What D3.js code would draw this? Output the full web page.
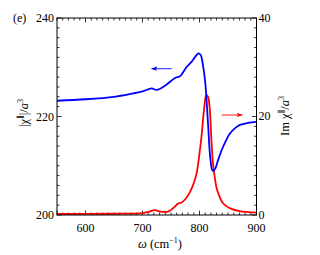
<!DOCTYPE html>
<html lang="en">
<head>
<meta charset="UTF-8">
<title>chi parallel</title>
<script src="https://d3js.org/d3.v7.min.js"></script>
<style>
  body { margin: 0; background: #fff; }
  svg { display: block; }
  text { font-family: "Liberation Serif", "DejaVu Serif", serif; fill: #000; }
</style>
</head>
<body>
<svg id="chart" width="320" height="255"></svg>
<script>
// frequency (cm^-1) and |chi|/a^3 (left axis)
const omegaAbs = [550, 600, 650, 680, 700, 716, 725, 740, 757, 766, 777, 786, 793, 798, 802, 806, 810, 815, 819, 823, 827, 833, 839, 846, 853, 862, 871, 885, 900];
const chiAbs   = [223.2, 223.5, 224.0, 224.6, 225.1, 225.7, 225.4, 226.3, 227.8, 228.2, 230.0, 231.1, 232.2, 232.8, 232.5, 230.5, 227.0, 218.5, 211.5, 209.0, 209.3, 211.3, 213.2, 215.0, 216.5, 217.6, 218.3, 218.7, 218.9];

// frequency and Im chi/a^3 (right axis)
const omegaIm = [550, 650, 700, 712, 722, 731, 745, 755, 762, 768, 775, 783, 790, 795, 800, 804, 808, 812, 815, 818, 821, 824, 827, 830, 835, 840, 847, 855, 870, 885, 900];
const chiIm   = [0.2, 0.25, 0.4, 0.7, 1.0, 0.7, 0.7, 1.5, 2.3, 2.5, 3.2, 4.6, 6.5, 8.5, 12.5, 16.5, 21.5, 24.4, 24.0, 21.5, 15.0, 10.0, 7.5, 5.5, 3.8, 2.6, 1.8, 1.3, 0.8, 0.6, 0.5];

const xTicks = [600, 700, 800, 900];
const leftTicks = [200, 220, 240];
const rightTicks = [0, 20, 40];

const svg = d3.select("#chart");
const margin = {top: 18, left: 57, right: 63.5, bottom: 40};
const W = 320 - margin.left - margin.right;
const H = 255 - margin.top - margin.bottom;

const x = d3.scaleLinear().domain([550, 900]).range([margin.left, margin.left + W]);
const yL = d3.scaleLinear().domain([200, 240]).range([margin.top + H, margin.top]);
const yR = d3.scaleLinear().domain([0, 40]).range([margin.top + H, margin.top]);

const g = svg.append("g");

// ticks (inside) - minor + major
function ticks(axisFn, scale, major, minorStep, pos, dir) {
  const d = scale.domain();
  const minors = d3.range(d[0], d[1] + 1e-6, minorStep);
  g.append("g").selectAll("line").data(minors).join("line")
    .each(function(v) {
      const isMajor = major.includes(Math.round(v));
      const len = isMajor ? 4.5 : 2.5;
      const s = scale(v);
      const el = d3.select(this);
      if (axisFn === "x") el.attr("x1", s).attr("x2", s).attr("y1", pos).attr("y2", pos + dir * len);
      else el.attr("y1", s).attr("y2", s).attr("x1", pos).attr("x2", pos + dir * len);
    })
    .attr("stroke", "#000").attr("stroke-width", 0.8);
}
ticks("x", x, xTicks.concat([550]), 10, margin.top + H, -1);
ticks("x", x, xTicks, 10, margin.top, 1);
ticks("y", yL, leftTicks, 2, margin.left, 1);
ticks("y", yR, rightTicks, 2, margin.left + W, -1);

// lines
const lineAbs = d3.line().x((d, i) => x(omegaAbs[i])).y(d => yL(d)).curve(d3.curveCatmullRom);
const lineIm = d3.line().x((d, i) => x(omegaIm[i])).y(d => yR(d)).curve(d3.curveCatmullRom);

const clip = svg.append("defs").append("clipPath").attr("id", "clip")
  .append("rect").attr("x", margin.left).attr("y", margin.top).attr("width", W).attr("height", H);

g.append("path").datum(chiIm).attr("d", lineIm)
  .attr("fill", "none").attr("stroke", "#ff0000").attr("stroke-width", 1.8).attr("clip-path", "url(#clip)");
g.append("path").datum(chiAbs).attr("d", lineAbs)
  .attr("fill", "none").attr("stroke", "#0000ff").attr("stroke-width", 1.8).attr("clip-path", "url(#clip)");

// frame
g.append("rect").attr("x", margin.left).attr("y", margin.top).attr("width", W).attr("height", H)
  .attr("fill", "none").attr("stroke", "#000").attr("stroke-width", 1);

// arrows
const defs = svg.select("defs");
[["arrB", "#0000ff"], ["arrR", "#ff0000"]].forEach(([id, c]) => {
  defs.append("marker").attr("id", id).attr("viewBox", "0 0 10 10").attr("refX", 9).attr("refY", 5)
    .attr("markerWidth", 7).attr("markerHeight", 7).attr("orient", "auto-start-reverse")
    .append("path").attr("d", "M0,1.5 L10,5 L0,8.5 L2.5,5 Z").attr("fill", c);
});
g.append("line").attr("x1", x(751)).attr("x2", x(716)).attr("y1", yL(229.7)).attr("y2", yL(229.7))
  .attr("stroke", "#0000ff").attr("stroke-width", 0.9).attr("marker-end", "url(#arrB)");
g.append("line").attr("x1", x(839)).attr("x2", x(875)).attr("y1", yR(20.3)).attr("y2", yR(20.3))
  .attr("stroke", "#ff0000").attr("stroke-width", 0.9).attr("marker-end", "url(#arrR)");

// tick labels
g.selectAll(".xl").data(xTicks).join("text").attr("x", d => x(d)).attr("y", 231.5)
  .attr("text-anchor", "middle").attr("font-size", 12).text(d => d);
g.selectAll(".yl").data(leftTicks).join("text").attr("x", margin.left - 3).attr("y", d => yL(d) + 4)
  .attr("text-anchor", "end").attr("font-size", 12).text(d => d);
g.selectAll(".yr").data(rightTicks).join("text").attr("x", margin.left + W + 2).attr("y", d => yR(d) + 3.5)
  .attr("text-anchor", "start").attr("font-size", 12).text(d => d);

g.append("text").attr("x", 13).attr("y", 22).attr("font-size", 12).text("(e)");

// axis titles
const xt = g.append("text").attr("x", 160).attr("y", 248).attr("text-anchor", "middle").attr("font-size", 12.5);
xt.append("tspan").attr("font-style", "italic").text("ω");
xt.append("tspan").text(" (cm");
xt.append("tspan").attr("font-size", 8).attr("dy", -5).text("−1");
xt.append("tspan").attr("dy", 5).text(")");

const ylt = g.append("text").attr("transform", "translate(28,113) rotate(-90)")
  .attr("text-anchor", "middle").attr("font-size", 12.5);
ylt.append("tspan").text("|χ");
ylt.append("tspan").attr("font-size", 8).attr("dy", -5).text("∥");
ylt.append("tspan").attr("dy", 5).text("|/");
ylt.append("tspan").attr("font-style", "italic").text("a");
ylt.append("tspan").attr("font-size", 8).attr("dy", -5).text("3");

const yrt = g.append("text").attr("transform", "translate(289,116) rotate(-90)")
  .attr("text-anchor", "middle").attr("font-size", 12.5);
yrt.append("tspan").text("Im χ");
yrt.append("tspan").attr("font-size", 8).attr("dy", -5).text("∥");
yrt.append("tspan").attr("dy", 5).text("/");
yrt.append("tspan").attr("font-style", "italic").text("a");
yrt.append("tspan").attr("font-size", 8).attr("dy", -5).text("3");
</script>
</body>
</html>
